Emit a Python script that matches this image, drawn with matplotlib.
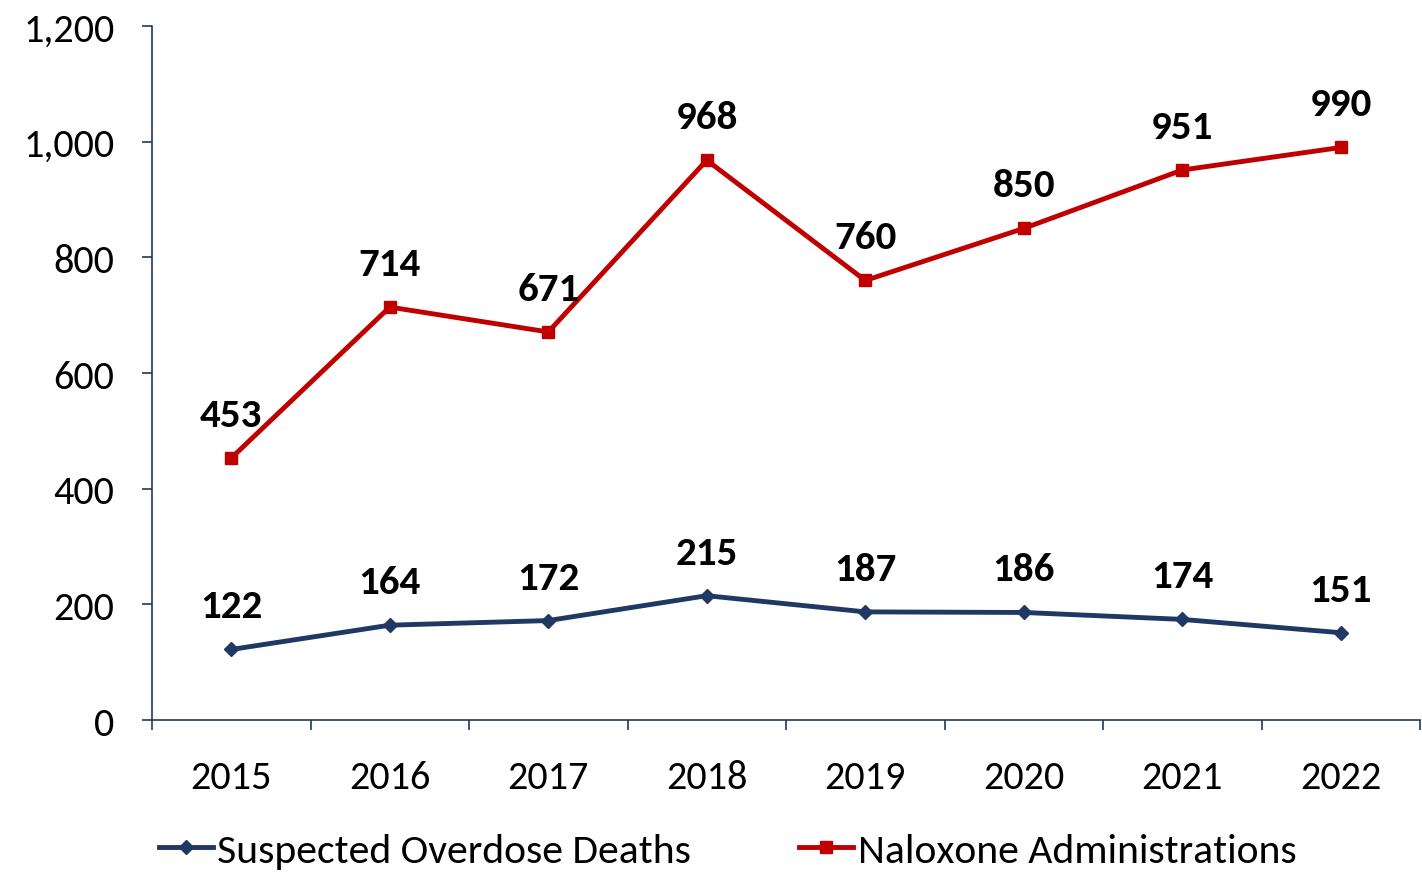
import matplotlib.pyplot as plt

years = ["2015", "2016", "2017", "2018", "2019", "2020", "2021", "2022"]
deaths = [122, 164, 172, 215, 187, 186, 174, 151]
naloxone = [453, 714, 671, 968, 760, 850, 951, 990]

plt.rcParams['font.family'] = ['Carlito', 'Lato', 'DejaVu Sans']

navy = "#1F3864"
red = "#C00000"
axis_col = "#1F3A5A"

fig = plt.figure(figsize=(14.22, 8.79), dpi=100)
ax = fig.add_axes([0.1069, 0.1797, 0.8917, 0.7896])

x = list(range(len(years)))
ax.plot(x, deaths, color=navy, lw=3.5, marker="D", ms=7, label="Suspected Overdose Deaths")
ax.plot(x, naloxone, color=red, lw=3.5, marker="s", ms=9, label="Naloxone Administrations")

for xi, v in zip(x, deaths):
    ax.annotate(f"{v}", (xi, v), xytext=(0, 31), textcoords="offset points",
                ha="center", va="center", fontsize=29.5, fontweight="bold")
for xi, v in zip(x, naloxone):
    ax.annotate(f"{v}", (xi, v), xytext=(0, 31), textcoords="offset points",
                ha="center", va="center", fontsize=29.5, fontweight="bold")

ax.set_xlim(-0.5, len(years) - 0.5)
ax.set_ylim(0, 1200)
ax.set_yticks(range(0, 1201, 200))
ax.set_yticklabels([f"{v:,}" for v in range(0, 1201, 200)], fontsize=29)

ax.set_xticks([i - 0.5 for i in range(len(years) + 1)])
ax.set_xticklabels([])
ax.set_xticks(x, minor=True)
ax.set_xticklabels(years, minor=True, fontsize=29)
ax.tick_params(axis="x", which="minor", length=0, pad=28)
ax.tick_params(axis="x", which="major", length=7, width=1.2, color=axis_col)
ax.tick_params(axis="y", length=7, width=1.2, color=axis_col, pad=20)

for s in ["top", "right"]:
    ax.spines[s].set_visible(False)
for s in ["left", "bottom"]:
    ax.spines[s].set_color(axis_col)
    ax.spines[s].set_linewidth(1.2)

fig.legend(loc="center", bbox_to_anchor=(0.5116, 0.031), ncol=2,
           frameon=False, fontsize=30, handlelength=1.3, handletextpad=0.1,
           columnspacing=2.6, borderpad=0)

plt.savefig("out.png", dpi=100)
plt.close()
